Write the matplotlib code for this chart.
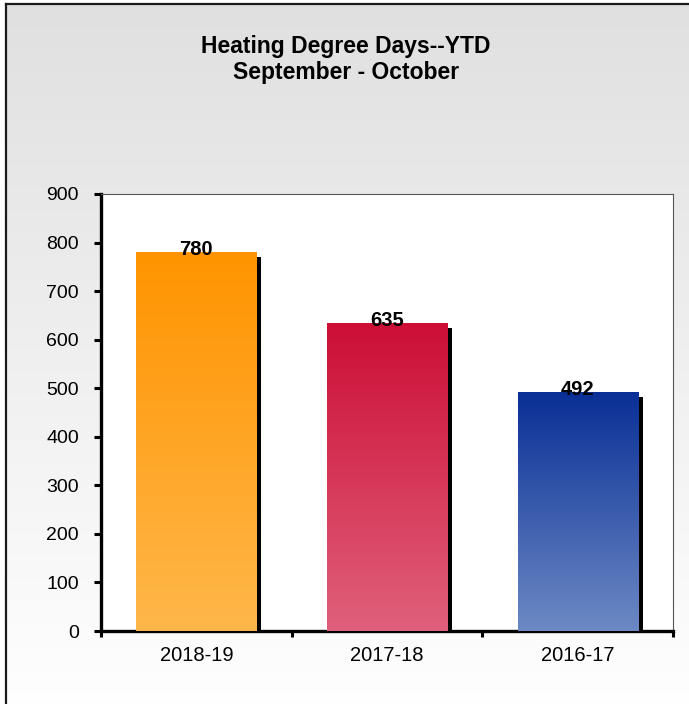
import numpy as np
import matplotlib
matplotlib.use("Agg")
import matplotlib.pyplot as plt
import matplotlib.patheffects as pe
from matplotlib.colors import LinearSegmentedColormap

# ── Data ──────────────────────────────────────────────────────────────
seasons = ["2018-19", "2017-18", "2016-17"]
hdd = [780, 635, 492]
y_ticks = [0, 100, 200, 300, 400, 500, 600, 700, 800, 900]

# (top colour, bottom colour) per bar
BAR_GRADS = [("#ff9400", "#ffb74a"),
             ("#cc0e35", "#e0607b"),
             ("#0a2f96", "#6c89c4")]

plt.rcParams["font.family"] = ["Liberation Sans", "DejaVu Sans"]

W, H = 689, 704
fig = plt.figure(figsize=(W / 100, H / 100), dpi=100, facecolor="white")

# ── Gray-to-white background panel with a frame on left/top ───────────
bg = fig.add_axes([6 / W, -0.02, 1.0, 1.02 - 4 / H], zorder=0)
grad = np.linspace(0, 1, 256).reshape(-1, 1)
bg_cmap = LinearSegmentedColormap.from_list("bg", ["#e0e0e0", "#ffffff"])
bg.imshow(grad, cmap=bg_cmap, aspect="auto", extent=[0, 1, 0, 1],
          origin="upper")
bg.set_xlim(0, 1)
bg.set_ylim(0, 1)
bg.set_xticks([])
bg.set_yticks([])
for side in ("right", "bottom"):
    bg.spines[side].set_visible(False)
for side in ("left", "top"):
    bg.spines[side].set_linewidth(1.6)
    bg.spines[side].set_color("#1a1a1a")

# ── Plot area ─────────────────────────────────────────────────────────
ax = fig.add_axes([101 / W, 1 - 631 / H, (673 - 101) / W, (631 - 194) / H],
                  zorder=1)
ax.set_facecolor("white")
x = np.arange(len(seasons))
bars = ax.bar(x, hdd, width=0.63, color="none", zorder=2,
              path_effects=[pe.SimplePatchShadow(offset=(3.5, -3.5),
                                                 shadow_rgbFace="black",
                                                 alpha=1.0),
                            pe.Normal()])

for bar, (top_c, bot_c) in zip(bars, BAR_GRADS):
    cmap = LinearSegmentedColormap.from_list("g", [top_c, bot_c])
    x0, y0 = bar.get_x(), bar.get_y()
    im = ax.imshow(grad, cmap=cmap, aspect="auto", origin="upper",
                   extent=[x0, x0 + bar.get_width(), y0, y0 + bar.get_height()],
                   zorder=3)
    im.set_clip_path(bar)

for xi, v in zip(x, hdd):
    ax.text(xi, v + 5, f"{v}", ha="center", va="center",
            fontsize=14.5, fontweight="bold", color="black", zorder=4)

ax.set_xlim(-0.5, len(seasons) - 0.5)
ax.set_ylim(0, 900)
ax.set_yticks(y_ticks)
ax.tick_params(axis="y", direction="out", length=5, width=2.2,
               pad=11, labelsize=14)
ax.set_xticks(x)
ax.set_xticklabels(seasons)
ax.tick_params(axis="x", which="major", length=0, pad=11, labelsize=14.5)
ax.set_xticks(np.arange(len(seasons) + 1) - 0.5, minor=True)
ax.tick_params(axis="x", which="minor", direction="out", length=4.5,
               width=2.2)

for side in ("left", "bottom"):
    ax.spines[side].set_linewidth(2.4)
    ax.spines[side].set_color("black")
for side in ("top", "right"):
    ax.spines[side].set_linewidth(0.8)
    ax.spines[side].set_color("#555555")

# ── Title ─────────────────────────────────────────────────────────────
fig.text(0.502, 1 - 46 / H, "Heating Degree Days--YTD", ha="center",
         va="center", fontsize=16.5, fontweight="bold")
fig.text(0.502, 1 - 73 / H, "September - October", ha="center",
         va="center", fontsize=16.5, fontweight="bold")

fig.savefig("out.png", dpi=100, facecolor="white")
